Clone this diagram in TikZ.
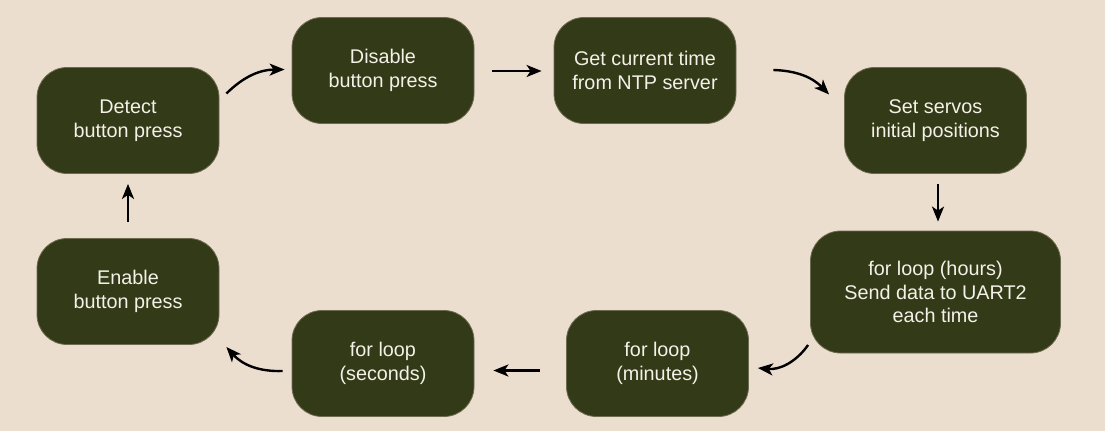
\documentclass[tikz,border=0pt]{standalone}
\usepackage{fontspec}
\setmainfont{Liberation Sans}
\usetikzlibrary{arrows.meta}
\definecolor{bg}{HTML}{EBDECF}
\definecolor{boxfill}{HTML}{333A17}
\definecolor{boxline}{HTML}{6E6A50}
\definecolor{txt}{HTML}{F4F1E8}
\tikzset{
  flowbox/.style={rectangle, rounded corners=30pt, fill=boxfill, draw=boxline, line width=0.8pt,
    minimum width=182pt, minimum height=106pt, align=center, text=txt,
    font=\fontsize{19.8}{24}\selectfont, inner sep=0pt},
  arr/.style={-{Stealth[length=15pt,width=12pt,inset=4pt]}, line width=2.4pt, black},
}
\begin{document}
\begin{tikzpicture}[x=1pt,y=-1pt]
\fill[bg] (0,0) rectangle (1105,431);
\useasboundingbox (0,0) rectangle (1105,431);
\node[flowbox] (detect) at (128,120.5) {Detect\\button press};
\node[flowbox] (disable) at (383,70.5) {Disable\\button press};
\node[flowbox] (ntp) at (645,70.5) {Get current time\\from NTP server};
\node[flowbox] (servos) at (935.5,120.5) {Set servos\\initial positions};
\node[flowbox, minimum width=250pt, minimum height=122pt, font=\fontsize{19.8}{23.5}\selectfont] (hours) at (935.5,292) {for loop (hours)\\Send data to UART2\\each time};
\node[flowbox] (minutes) at (657.5,363.5) {for loop\\(minutes)};
\node[flowbox] (seconds) at (383,363.5) {for loop\\(seconds)};
\node[flowbox] (enable) at (128,291.5) {Enable\\button press};
% connectors
\draw[arr] ([shift={(7,-27)}]detect.east) to[bend left=22] ([shift={(-7,-1)}]disable.west);
\draw[arr] ([shift={(18,0.5)}]disable.east) -- ([shift={(-12,0.5)}]ntp.west);
\draw[arr] ([shift={(37,-0.5)}]ntp.east) to[bend left=22] ([shift={(-15,-26)}]servos.west);
\draw[arr] ([shift={(2.5,10)}]servos.south) -- ([shift={(2.5,-9)}]hours.north);
\draw[arr] ([shift={(-2,53)}]hours.west) to[bend left=30] ([shift={(9,4.5)}]minutes.east);
\draw[arr] ([shift={(-26,7)}]minutes.west) -- ([shift={(19,7)}]seconds.east);
\draw[arr] ([shift={(-9,7.5)}]seconds.west) to[bend left=25] ([shift={(7,55.5)}]enable.east);
\draw[arr] ([shift={(0,-16)}]enable.north) -- ([shift={(0,10)}]detect.south);
\end{tikzpicture}
\end{document}
